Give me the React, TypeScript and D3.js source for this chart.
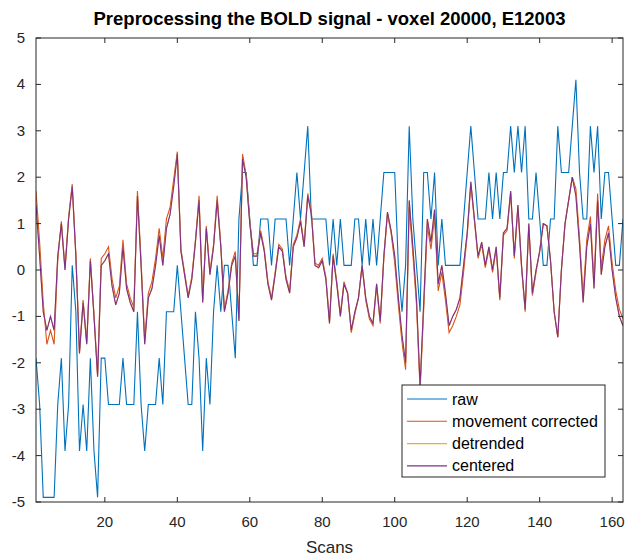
import * as d3 from "d3";

// scan index 1..163
const rawSignal = [
  -1.9, -2.9, -4.9, -4.9, -4.9, -4.9, -2.9, -1.9, -3.9, -2.9,
  0.1, -0.9, -3.9, -2.9, -3.9, -1.9, -3.9, -4.9, -1.9, -1.9,
  -2.9, -2.9, -2.9, -2.9, -1.9, -2.9, -2.9, -2.9, -0.9, -2.9,
  -3.9, -2.9, -2.9, -2.9, -1.9, -2.9, -0.9, -0.9, -0.9, 0.1,
  -0.9, -1.9, -2.9, -2.9, -0.9, -1.9, -3.9, -1.9, -2.9, -0.9,
  0.1, -0.9, 0.1, 0.1, -0.9, -1.9, 1.1, 2.1, 2.1, 1.1,
  0.1, 0.1, 1.1, 1.1, 1.1, 0.1, 1.1, 1.1, 1.1, 1.1,
  0.1, 1.1, 2.1, 1.1, 2.1, 3.1, 1.1, 1.1, 1.1, 1.1,
  1.1, 0.1, 1.1, 0.1, 1.1, 0.1, 0.1, 0.1, 1.1, 1.1,
  0.1, 1.1, 0.1, 1.1, 0.1, 1.1, 2.1, 2.1, 2.1, 2.1,
  0.1, -0.9, 0.1, 3.1, 1.1, 0.1, -0.9, 2.1, 2.1, 1.1,
  2.1, 0.1, 1.1, 0.1, 0.1, 0.1, 0.1, 0.1, 1.1, 2.1,
  3.1, 2.1, 1.1, 1.1, 1.1, 2.1, 1.1, 2.1, 1.1, 2.1,
  2.1, 3.1, 2.1, 3.1, 2.1, 3.1, 1.1, 1.1, 2.1, 1.1,
  0.1, 0.1, 1.1, 1.1, 3.1, 2.1, 2.1, 2.1, 3.1, 4.1,
  2.1, 1.1, 1.1, 3.1, 2.1, 3.1, 1.1, 2.1, 2.1, 1.1,
  0.1, 0.1, 1.1,
];

const movementCorrected = [
  1.7, 0.6, -0.7, -1.6, -1.3, -1.6, 0.2, 1.05, 0.05, 1.15,
  1.85, 0.35, -1.75, -0.65, -1.55, 0.25, -0.95, -2.25, 0.25, 0.35,
  0.5, -0.2, -0.6, -0.35, 0.65, -0.3, -0.6, -0.8, 1.7, 0.2,
  -1.5, -0.5, -0.25, 0.25, 0.9, 0.25, 1.1, 1.35, 1.95, 2.55,
  0.45, -0.05, -0.55, -0.15, 0.65, 1.6, -0.65, 0.95, -0.05, 0.55,
  1.6, 0.55, -0.85, -0.45, 0.15, 0.4, -1.05, 2.5, 2.05, 1.05,
  0.35, 0.35, 0.85, 0.45, -0.25, -0.6, -0.05, 0.55, 0.45, -0.15,
  -0.45, 0.55, 0.75, 1.1, 0.55, 1.65, 1.25, 0.15, 0.1, 0.25,
  -0.15, -1.1, 0.35, -0.25, -0.95, -0.25, -0.5, -1.35, -0.95, -0.6,
  0.1, -0.65, -1.05, -1.2, -0.35, -1.15, 0.25, 1.2, 0.8, 0.15,
  -0.75, -1.55, -2.15, 1.35, 0.35, -0.75, -2.6, -0.85, 0.95, 0.45,
  1.15, -0.45, -0.05, -0.65, -1.35, -1.2, -1.0, -0.75, -0.05, 0.75,
  1.85, 1.05, 0.25, 0.55, 0.05, 0.45, -0.05, 0.45, -0.65, 0.75,
  0.85, 1.65, 0.25, 1.35, 0.05, -0.9, 0.95, -0.55, -0.05, 0.4,
  1.0, 0.95, 0.2, -0.9, -1.45, 0.0, 1.0, 1.5, 2.0, 1.75,
  0.7, -0.55, 0.65, 1.15, -0.25, 1.65, 0.05, 0.65, 0.95, 0.15,
  -0.45, -0.85, -1.05,
];

const detrended = [
  1.4, 0.3, -0.9, -1.3, -1.0, -1.3, 0.3, 1.0, 0.0, 1.1,
  1.8, 0.3, -1.8, -0.7, -1.6, 0.2, -1.0, -2.3, 0.1, 0.2,
  0.35, -0.35, -0.75, -0.5, 0.5, -0.4, -0.7, -0.9, 1.6, 0.1,
  -1.6, -0.6, -0.4, 0.1, 0.75, 0.1, 0.9, 1.2, 1.8, 2.5,
  0.4, -0.1, -0.6, -0.2, 0.6, 1.5, -0.7, 0.9, -0.1, 0.5,
  1.5, 0.5, -0.9, -0.5, 0.1, 0.3, -1.1, 2.4, 2.0, 1.0,
  0.3, 0.3, 0.8, 0.4, -0.3, -0.65, -0.1, 0.5, 0.4, -0.2,
  -0.5, 0.5, 0.7, 1.05, 0.5, 1.6, 1.2, 0.1, 0.05, 0.2,
  -0.2, -1.15, 0.3, -0.3, -1.0, -0.3, -0.5, -1.3, -0.9, -0.6,
  0.1, -0.6, -1.0, -1.15, -0.3, -1.1, 0.3, 1.25, 0.85, 0.3,
  -0.6, -1.4, -2.0, 1.5, 0.5, -0.6, -2.5, -0.7, 1.1, 0.6,
  1.3, -0.3, 0.1, -0.5, -1.2, -1.0, -0.85, -0.6, 0.1, 0.8,
  1.9, 1.1, 0.3, 0.6, 0.1, 0.5, 0.0, 0.5, -0.6, 0.8,
  0.9, 1.7, 0.3, 1.4, 0.1, -0.85, 1.0, -0.5, 0.0, 0.4,
  1.0, 0.95, 0.2, -0.9, -1.45, 0.0, 1.0, 1.5, 2.0, 1.6,
  0.55, -0.7, 0.5, 1.0, -0.4, 1.5, -0.1, 0.5, 0.8, 0.0,
  -0.6, -1.0, -1.2,
];

const centered = [
  1.4, 0.3, -0.9, -1.3, -1.0, -1.3, 0.3, 1.0, 0.0, 1.1,
  1.8, 0.3, -1.8, -0.7, -1.6, 0.2, -1.0, -2.3, 0.1, 0.2,
  0.35, -0.35, -0.75, -0.5, 0.5, -0.4, -0.7, -0.9, 1.6, 0.1,
  -1.6, -0.6, -0.4, 0.1, 0.75, 0.1, 0.9, 1.2, 1.8, 2.5,
  0.4, -0.1, -0.6, -0.2, 0.6, 1.5, -0.7, 0.9, -0.1, 0.5,
  1.5, 0.5, -0.9, -0.5, 0.1, 0.3, -1.1, 2.4, 2.0, 1.0,
  0.3, 0.3, 0.8, 0.4, -0.3, -0.65, -0.1, 0.5, 0.4, -0.2,
  -0.5, 0.5, 0.7, 1.05, 0.5, 1.6, 1.2, 0.1, 0.05, 0.2,
  -0.2, -1.15, 0.3, -0.3, -1.0, -0.3, -0.5, -1.3, -0.9, -0.6,
  0.1, -0.6, -1.0, -1.15, -0.3, -1.1, 0.3, 1.25, 0.85, 0.3,
  -0.6, -1.4, -2.0, 1.5, 0.5, -0.6, -2.5, -0.7, 1.1, 0.6,
  1.3, -0.3, 0.1, -0.5, -1.2, -1.0, -0.85, -0.6, 0.1, 0.8,
  1.9, 1.1, 0.3, 0.6, 0.1, 0.5, 0.0, 0.5, -0.6, 0.8,
  0.9, 1.7, 0.3, 1.4, 0.1, -0.85, 1.0, -0.5, 0.0, 0.4,
  1.0, 0.95, 0.2, -0.9, -1.45, 0.0, 1.0, 1.5, 2.0, 1.6,
  0.55, -0.7, 0.5, 1.0, -0.4, 1.5, -0.1, 0.5, 0.8, 0.0,
  -0.6, -1.0, -1.2,
];

const seriesNames = ["raw", "movement corrected", "detrended", "centered"];
const seriesColors = ["#0072BD", "#D95319", "#EDB120", "#7E2F8E"];
const xTicks = [20, 40, 60, 80, 100, 120, 140, 160];
const yTicks = [-5, -4, -3, -2, -1, 0, 1, 2, 3, 4, 5];

const W = 627;
const H = 557;
const left = 36;
const right = 623;
const top = 38;
const bottom = 502;
const axisColor = "#262626";
const font = "'Liberation Sans', Arial, Helvetica, sans-serif";

export default function App() {
  const allSeries = [rawSignal, movementCorrected, detrended, centered];
  const n = rawSignal.length;

  const x = d3.scaleLinear().domain([1, n]).range([left, right]);
  const y = d3.scaleLinear().domain([-5, 5]).range([bottom, top]);

  const line = d3
    .line<number>()
    .x((_, i) => x(i + 1))
    .y((d) => y(d));

  const tickLen = 5;

  return (
    <svg
      width={W}
      height={H}
      style={{ position: "absolute", left: 0, top: 0, background: "#fff" }}
      fontFamily={font}
    >
      <defs>
        <clipPath id="plot-clip">
          <rect x={left} y={top} width={right - left} height={bottom - top} />
        </clipPath>
      </defs>

      <text
        x={(left + right) / 2}
        y={25}
        textAnchor="middle"
        fontWeight="bold"
        fontSize={18.5}
        fill="#000"
      >
        Preprocessing the BOLD signal - voxel 20000, E12003
      </text>

      {/* series */}
      <g clipPath="url(#plot-clip)">
        {allSeries.map((s, k) => (
          <path
            key={seriesNames[k]}
            d={line(s) ?? ""}
            fill="none"
            stroke={seriesColors[k]}
            strokeWidth={1.1}
          />
        ))}
      </g>

      {/* box + ticks */}
      <rect
        x={left}
        y={top}
        width={right - left}
        height={bottom - top}
        fill="none"
        stroke={axisColor}
        strokeWidth={1}
      />
      {xTicks.map((t) => (
        <g key={"x" + t}>
          <line x1={x(t)} x2={x(t)} y1={bottom} y2={bottom - tickLen} stroke={axisColor} />
          <line x1={x(t)} x2={x(t)} y1={top} y2={top + tickLen} stroke={axisColor} />
          <text
            x={x(t)}
            y={527}
            textAnchor="middle"
            fontSize={15}
            fill={axisColor}
          >
            {t}
          </text>
        </g>
      ))}
      {yTicks.map((t) => (
        <g key={"y" + t}>
          <line x1={left} x2={left + tickLen} y1={y(t)} y2={y(t)} stroke={axisColor} />
          <line x1={right} x2={right - tickLen} y1={y(t)} y2={y(t)} stroke={axisColor} />
          <text
            x={25}
            y={y(t) + 5}
            textAnchor="end"
            fontSize={15}
            fill={axisColor}
          >
            {t}
          </text>
        </g>
      ))}

      <text
        x={(left + right) / 2}
        y={553}
        textAnchor="middle"
        fontSize={17}
        fill={axisColor}
      >
        Scans
      </text>

      {/* legend */}
      <g>
        <rect x={402} y={385} width={203} height={92} fill="#fff" stroke={axisColor} />
        {seriesNames.map((name, k) => {
          const ly = 399 + k * 22.3;
          return (
            <g key={"lg" + name}>
              <line x1={407} x2={447} y1={ly} y2={ly} stroke={seriesColors[k]} strokeWidth={1.1} />
              <text x={452} y={ly + 5.5} fontSize={16} fill="#000">
                {name}
              </text>
            </g>
          );
        })}
      </g>
    </svg>
  );
}
